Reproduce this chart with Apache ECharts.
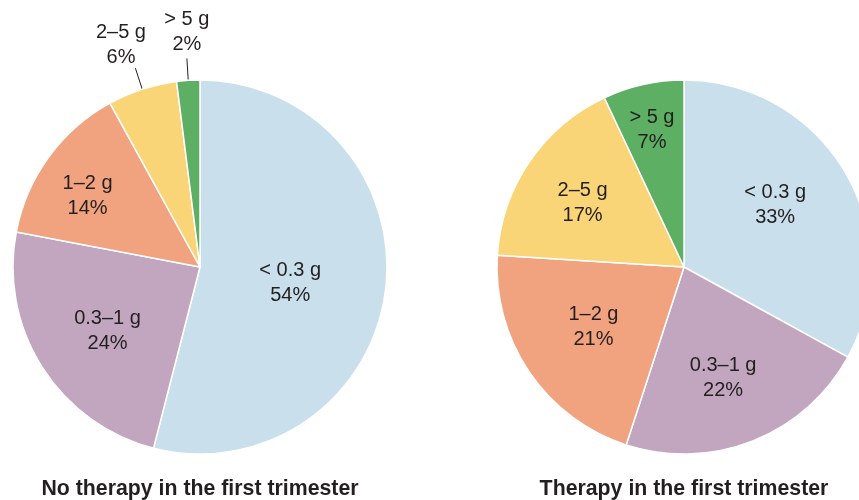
<!DOCTYPE html>
<html>
<head>
    <meta charset="utf-8">
    <script src="https://cdn.jsdelivr.net/npm/echarts@6/dist/echarts.min.js"></script>
    <style>
        body { margin: 0; background: #fff; }
    </style>
</head>
<body>
    <div id="main" style="width: 859px;height:500px;"></div>
    <script type="text/javascript">
        // data
        var categories = ['< 0.3 g', '0.3–1 g', '1–2 g', '2–5 g', '> 5 g'];
        var noTherapy = [54, 24, 14, 6, 2];
        var therapy = [33, 22, 21, 17, 7];
        var titles = ['No therapy in the first trimester', 'Therapy in the first trimester'];

        var colors = ['#c9dfec', '#c2a5be', '#f1a27f', '#f9d577', '#5daf63'];
        var textColor = '#231f20';
        var R = 187;
        var centers = [[200, 267], [684, 267]];
        // label placement: distance from centre (fraction of radius) and small turn in degrees
        var labelRadius = [
            [0.49, 0.60, 0.71, 1.26, 1.26],
            [0.59, 0.63, 0.58, 0.64, 0.75]
        ];
        var labelTurn = [
            [2.9, -2.1, -3.9, -1.6, 0.4],
            [-3.7, 2.2, 0.8, -2.1, -0.6]
        ];
        var outside = [
            [false, false, false, true, true],
            [false, false, false, false, false]
        ];

        function makeLayout(k) {
            var cx = centers[k][0], cy = centers[k][1];
            return function (p) {
                var dx, dy;
                var isOut = outside[k][p.dataIndex] && p.labelLinePoints;
                if (isOut) {
                    dx = p.labelLinePoints[0][0] - cx;
                    dy = p.labelLinePoints[0][1] - cy;
                } else {
                    var r = p.labelRect;
                    dx = r.x + r.width / 2 - cx;
                    dy = r.y + r.height / 2 - cy;
                }
                var a = Math.atan2(dx, -dy) + labelTurn[k][p.dataIndex] * Math.PI / 180;
                var f = labelRadius[k][p.dataIndex] * R;
                var res = {
                    x: cx + Math.sin(a) * f,
                    y: cy - Math.cos(a) * f,
                    align: 'center',
                    verticalAlign: 'middle'
                };
                if (isOut) {
                    // keep the short radial leader line
                    var pts = p.labelLinePoints;
                    res.labelLinePoints = [pts[0], pts[1], pts[1]];
                }
                return res;
            };
        }

        function buildData(k, values) {
            return categories.map(function (c, i) {
                var item = {name: c, value: values[i], itemStyle: {color: colors[i]}};
                if (outside[k][i]) {
                    item.label = {position: 'outside'};
                    item.labelLine = {show: true, length: 22, length2: 0, lineStyle: {color: textColor, width: 1}};
                }
                return item;
            });
        }

        function buildSeries(k, values) {
            return {
                type: 'pie',
                center: centers[k],
                radius: R,
                startAngle: 90,
                clockwise: true,
                animation: false,
                silent: true,
                avoidLabelOverlap: false,
                itemStyle: {borderColor: '#fff', borderWidth: 1.5},
                label: {
                    position: 'inside',
                    formatter: '{b}\n{c}%',
                    color: textColor,
                    fontFamily: 'Liberation Sans, Arial, sans-serif',
                    fontSize: 20,
                    lineHeight: 25,
                    align: 'center'
                },
                labelLine: {show: false},
                labelLayout: makeLayout(k),
                data: buildData(k, values)
            };
        }

        var option = {
            backgroundColor: '#fff',
            title: titles.map(function (t, k) {
                return {
                    text: t,
                    left: centers[k][0],
                    top: 479,
                    padding: 0,
                    textAlign: 'center',
                    textStyle: {
                        color: textColor,
                        fontFamily: 'Liberation Sans, Arial, sans-serif',
                        fontWeight: 'bold',
                        fontSize: 21.3
                    }
                };
            }),
            series: [buildSeries(0, noTherapy), buildSeries(1, therapy)]
        };

        var myChart = echarts.init(document.getElementById('main'));
        myChart.setOption(option);
    </script>
</body>
</html>
